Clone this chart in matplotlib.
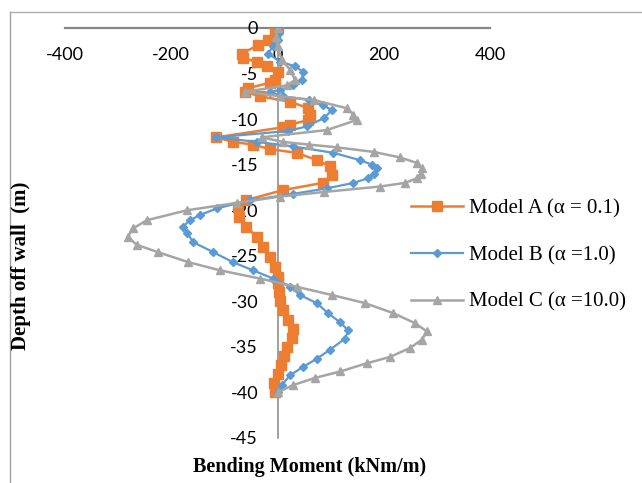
import matplotlib
matplotlib.use("Agg")
import matplotlib.pyplot as plt
from matplotlib.lines import Line2D

plt.rcParams["axes.unicode_minus"] = False

# Model A (alpha = 0.1)
depth_a = [0, -0.6, -1.3, -1.9, -2.8, -3.3, -3.7, -4.2, -4.8, -5.7, -6.0, -6.6, -7.0, -7.5,
           -8.1, -8.8, -9.5, -10.1, -10.6, -10.9, -12.0, -12.5, -12.8, -13.3, -13.7, -14.5,
           -15.2, -16.1, -17.0, -17.8, -18.9, -19.6, -20.7, -21.8, -22.9, -24.0, -25.1, -26.2,
           -27.3, -28.0, -29.0, -30.0, -31.0, -32.0, -33.0, -34.0, -35.0, -36.0, -37.0, -38.0,
           -39.0, -40.0]
moment_a = [0, -5, -18, -37, -67, -65, -39, -20, 0, -5, -14, -55, -62, -33,
            24, 58, 62, 58, 24, 10, -115, -84, -46, -14, 36, 74,
            99, 103, 85, 10, -60, -75, -73, -59, -39, -27, -14, -5,
            0, 0, 2, 4, 10, 20, 30, 27, 18, 12, 7, 0,
            -6, -5]

# Model B (alpha = 1.0)
depth_b = [0, -0.6, -1.3, -2.0, -2.8, -3.7, -4.2, -4.8, -5.7, -6.3, -6.8, -7.0, -7.5, -7.9,
           -8.5, -9.0, -9.9, -10.8, -11.3, -12.0, -12.5, -13.0, -13.7, -14.5, -15.0, -15.4,
           -16.0, -16.5, -17.0, -17.6, -18.2, -18.9, -19.8, -20.5, -21.1, -21.8, -22.5, -23.5,
           -24.6, -25.7, -26.6, -27.5, -28.4, -29.3, -30.2, -31.3, -32.3, -33.2, -34.1, -35.3,
           -36.3, -37.2, -38.1, -39.2, -40.0]
moment_b = [0, 2, 0, -8, -18, 5, 33, 48, 46, 30, 5, -14, 10, 60,
            85, 103, 87, 55, 20, -115, -39, 30, 105, 155, 178, 187,
            182, 170, 143, 93, 30, -52, -114, -145, -165, -178, -170, -159,
            -121, -84, -46, -8, 24, 42, 74, 95, 118, 133, 127, 99,
            74, 48, 24, 8, 0]

# Model C (alpha = 10.0)
depth_c = [0, -1.0, -2.0, -3.5, -4.6, -5.7, -6.3, -7.0, -7.5, -7.9, -8.8, -9.5, -10.1, -11.2,
           -12.0, -12.5, -12.8, -13.1, -13.6, -14.2, -14.8, -15.4, -16.0, -16.5, -17.0, -17.4,
           -18.0, -18.5, -19.2, -20.0, -21.1, -22.0, -22.9, -23.8, -24.6, -25.7, -26.6, -27.5,
           -28.4, -29.3, -30.2, -31.3, -32.4, -33.3, -34.2, -35.1, -36.1, -36.8, -37.7, -38.4,
           -39.2, -40.0]
moment_c = [0, -3, 0, 8, 24, 33, 18, -62, 5, 68, 130, 143, 149, 93,
            -30, 10, 60, 112, 181, 230, 262, 272, 270, 262, 240, 193,
            87, 5, -77, -170, -246, -272, -282, -265, -225, -168, -108, -33,
            36, 102, 165, 218, 259, 281, 272, 250, 212, 168, 118, 71,
            29, 0]

labels = ["Model A (\u03b1 = 0.1)", "Model B (\u03b1 =1.0)", "Model C (\u03b1 =10.0)"]
colors = ["#ED7D31", "#5B9BD5", "#A5A5A5"]
x_ticks = [-400, -200, 0, 200, 400]
y_ticks = [0, -5, -10, -15, -20, -25, -30, -35, -40, -45]

W, H = 642, 483
fig = plt.figure(figsize=(W / 100, H / 100), dpi=100)
ax = fig.add_axes([65 / W, 1 - 438 / H, 425 / W, 410 / H])

ax.plot(moment_a, depth_a, color=colors[0], lw=1.8, marker="s", ms=7, label=labels[0])
ax.plot(moment_b, depth_b, color=colors[1], lw=1.6, marker="D", ms=4, label=labels[1])
ax.plot(moment_c, depth_c, color=colors[2], lw=1.8, marker="^", ms=6, label=labels[2])

ax.set_xlim(-400, 400)
ax.set_ylim(-45, 0)
ax.set_xticks(x_ticks)
ax.set_yticks(y_ticks)

for s in ["top", "right"]:
    ax.spines[s].set_visible(False)
ax.spines["bottom"].set_position(("data", 0))
ax.spines["left"].set_position(("data", 0))
ax.spines["bottom"].set_color("#868686")
ax.spines["bottom"].set_linewidth(1.6)
ax.spines["left"].set_color("#868686")
ax.spines["left"].set_linewidth(1.1)
ax.spines["bottom"].set_zorder(0.5)
ax.spines["left"].set_zorder(0.5)
ax.tick_params(axis="x", length=0, pad=14, labelsize=13)
ax.tick_params(axis="y", length=0, pad=14, labelsize=13)
for t in ax.get_xticklabels() + ax.get_yticklabels():
    t.set_fontfamily("Lato")

fig.text(310 / W, 1 - 467 / H, "Bending Moment (kNm/m)", ha="center", va="center",
         fontsize=14.5, fontweight="bold", family="Liberation Serif")
fig.text(21 / W, 1 - 266 / H, "Depth off wall  (m)", ha="center", va="center",
         rotation=90, fontsize=15, fontweight="bold", family="Liberation Serif")

ax.legend(loc="upper left", bbox_to_anchor=(411 / W, 1 - 199 / H), bbox_transform=fig.transFigure,
          frameon=False, borderpad=0, borderaxespad=0, handlelength=2.5, handletextpad=0.3,
          labelspacing=1.3, prop={"family": "Liberation Serif", "size": 15})

# chart border (top and left edges visible)
fig.add_artist(Line2D([10 / W, 1], [1 - 12 / H, 1 - 12 / H], color="#B0B0B0", lw=1))
fig.add_artist(Line2D([10 / W, 10 / W], [0, 1 - 12 / H], color="#A0A0A0", lw=1))

fig.savefig("out.png", dpi=100)
